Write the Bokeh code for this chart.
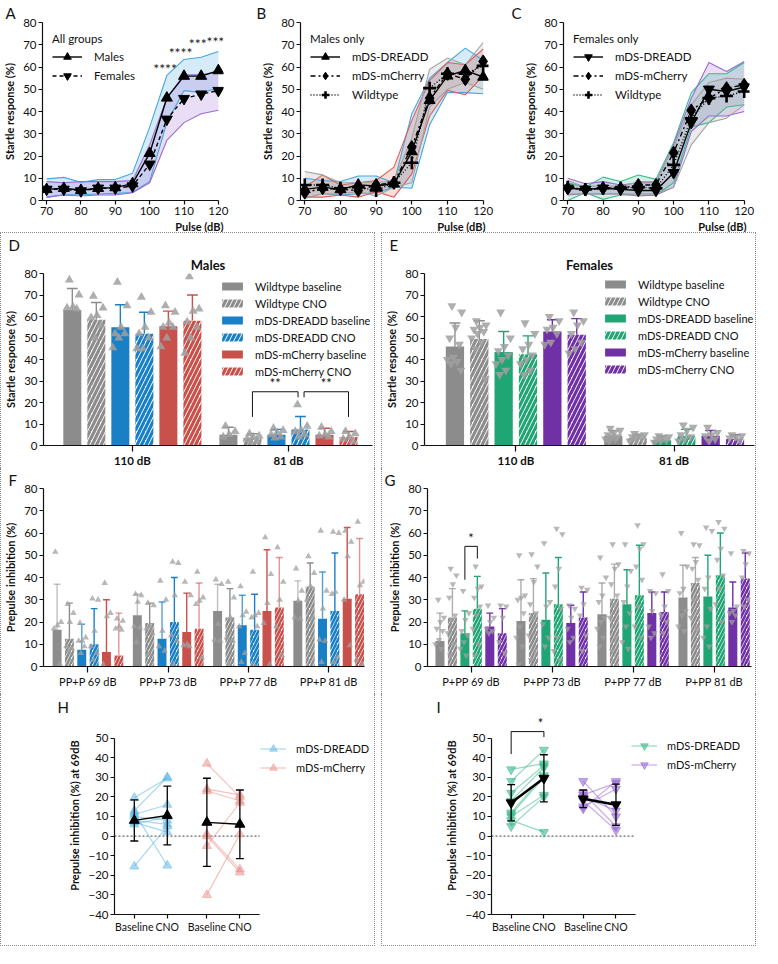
from bokeh.plotting import figure
from bokeh.models import (Range1d, FixedTicker, Legend, LegendItem, Title,
                          CustomJSTickFormatter)
from bokeh.layouts import row, column
from bokeh.core.properties import value
from bokeh.embed import file_html
from bokeh.resources import INLINE

FONT = "Lato"
TXT = "#111111"

GRAY = "#8c8c8c"
BLUE = "#1a80c6"
RED = "#c9514b"
GREEN = "#20a674"
PURPLE = "#7030a6"
BAND_BLUE = "#46a6e0"
BAND_PURPLE = "#9a6ad6"
BAND_RED = "#dd5e58"
BAND_GRAY = "#a3a3a3"
BAND_GREEN = "#3cbb8b"

# ---------------- data: A/B/C startle curves ----------------
pulse_db = [70, 75, 80, 85, 90, 95, 100, 105, 110, 115, 120]

a_male_mean = [5.0, 5.5, 4.6, 5.5, 5.8, 7.6, 21.2, 46.1, 55.9, 55.9, 58.4]
a_male_hi = [9.7, 10.4, 8.2, 9.4, 9.4, 12.2, 33.0, 56.2, 63.4, 64.4, 67.0]
a_male_lo = [1.4, 2.6, 2.6, 2.9, 3.2, 3.6, 8.6, 35.0, 49.4, 48.5, 50.4]
a_fem_mean = [5.0, 5.0, 4.3, 5.5, 5.5, 6.5, 16.3, 36.5, 45.8, 47.8, 49.4]
a_fem_hi = [8.5, 8.0, 8.5, 8.5, 8.5, 9.0, 25.0, 46.0, 56.5, 56.5, 58.0]
a_fem_lo = [1.5, 2.5, 2.0, 2.5, 2.5, 3.5, 8.0, 27.0, 35.0, 39.0, 40.6]
a_star_text = ["****", "****", "***", "****"]
a_star_x = [104.5, 109, 114, 120]
a_star_y = [59.5, 66.5, 70.5, 71.5]

b_dreadd_mean = [5, 6, 5, 7, 6.5, 7.5, 22, 45, 56, 58.5, 55.5]
b_dreadd_hi = [10, 9, 8.5, 11, 11, 8, 39, 55, 62, 68.5, 63]
b_dreadd_lo = [1, 3, 2.5, 3, 3.5, 6, 5.5, 34, 48.5, 48.5, 48]
b_mch_mean = [3.5, 5.5, 5, 4.5, 7, 8, 24, 46, 57, 54.5, 62.5]
b_mch_hi = [6, 11.5, 7, 8, 9, 15, 36, 54, 62, 61, 68]
b_mch_lo = [1.5, 1.5, 2.5, 1.5, 4, 1.5, 12, 38, 49.5, 47.5, 56]
b_wt_mean = [7, 7, 5.5, 6, 4.5, 8, 17, 50.5, 57, 57, 60.5]
b_wt_hi = [13, 11.5, 8, 8, 8, 9, 28, 59, 64, 61, 71]
b_wt_lo = [1, 3, 3, 4, 2, 6, 8, 42, 50, 53, 50]

c_dreadd_mean = [5.5, 5, 5.5, 5, 4.5, 4.5, 12.5, 35, 50, 49, 51]
c_dreadd_hi = [8, 6, 10.5, 8.5, 11.5, 9.5, 26, 48.5, 57, 57, 62]
c_dreadd_lo = [0, 3.5, 0.5, 2.5, 2.5, 2.5, 8, 33, 35, 42, 43]
c_mch_mean = [5.5, 5, 5.5, 5.5, 7, 7, 21.5, 40.5, 46, 50.5, 52]
c_mch_hi = [10, 7.5, 8.5, 7, 8, 8, 25, 46, 62, 58, 62.5]
c_mch_lo = [2.5, 3, 3, 3, 2, 2.5, 6, 31, 38, 38, 40]
c_wt_mean = [6, 5, 5.5, 5.5, 6, 5.5, 16, 37, 46, 47, 49]
c_wt_hi = [9, 6, 7, 6, 8.5, 8.5, 24, 43, 53, 55, 54.5]
c_wt_lo = [3, 3, 3, 3, 3, 3, 6, 25, 35, 37, 43]

# ---------------- data: D/E startle bars ----------------
cond_labels = ["Wildtype baseline", "Wildtype CNO", "mDS-DREADD baseline",
               "mDS-DREADD CNO", "mDS-mCherry baseline", "mDS-mCherry CNO"]
cond_hatched = [False, True, False, True, False, True]
startle_groups = ["110 dB", "81 dB"]

d_mean = [[63, 5], [58.5, 3.5], [55, 5], [52, 7.5], [55.5, 5], [58, 4]]
d_top = [[73, 8.5], [66.5, 5.5], [65.5, 7.5], [62, 13.5], [62.5, 8], [70, 6.5]]
d_pts = [
    [[77, 70, 64.5, 64, 63.5], [9, 6.5, 5, 4]],
    [[69.5, 64, 60.5, 59.5, 56, 50], [5.5, 4.5, 4, 3, 2, 1.5]],
    [[76, 65, 55, 52, 52, 50, 45.5], [8, 7, 6, 5, 4, 3.5]],
    [[69, 62, 55, 52, 50, 45, 45], [19, 9, 7, 6.5, 5, 4]],
    [[65, 62, 57, 55, 55, 50, 46], [8.5, 6.5, 5, 4.5, 4]],
    [[78.5, 63.5, 62.5, 57.5, 55, 50, 43], [6.5, 5.5, 4, 3, 2]],
]

e_mean = [[46, 4.5], [49.5, 3.5], [43.5, 2.5], [42.5, 4.5], [53, 4.5], [51.5, 3]]
e_top = [[57, 7], [58, 5], [53, 4.5], [51, 7.5], [58.5, 7], [59, 5]]
e_pts = [
    [[65, 62, 55, 50, 47, 41, 40, 39, 38, 35], [8, 7, 6, 5, 4, 4, 3, 3, 2]],
    [[58, 56, 55, 54, 53, 52, 50, 48, 45, 31], [5.5, 5, 4.5, 4, 3.5, 3, 2]],
    [[62, 50, 46, 44, 42, 40, 38, 35, 33], [4.5, 4, 3.5, 3, 2.5, 2, 1.5]],
    [[57, 52, 47, 45, 42, 40, 38, 35, 33], [9.5, 8.5, 7, 5, 4, 3, 2]],
    [[60, 58, 55, 54, 52, 48, 47], [8.5, 6, 5, 4.5, 3, 2]],
    [[62, 58, 56, 52, 48, 45, 43], [5, 4.5, 4, 3.5, 2.5]],
]

# ---------------- data: F/G prepulse inhibition bars ----------------
ppi_groups_m = ["PP+P 69 dB", "PP+P 73 dB", "PP+P 77 dB", "PP+P 81 dB"]
ppi_groups_f = ["P+PP 69 dB", "P+PP 73 dB", "P+PP 77 dB", "P+PP 81 dB"]

f_mean = [[16.5, 23, 25, 29.5], [12.5, 19.5, 22, 36], [7.5, 12.5, 18.5, 21.5],
          [10, 20, 16.5, 25], [6.5, 15.5, 25, 30.5], [5, 17, 26.5, 32.5]]
f_top = [[37, 32.5, 37, 38.5], [28.5, 28.5, 35, 46.5], [19, 29, 32, 42.5],
         [26, 40, 32.5, 51], [30, 33, 52.5, 62.5], [24, 37.5, 49, 57.5]]
f_pts = [
    [[51.5, 20, 18.5, 17, 1], [32.5, 32, 29, 18, 17.5, 11], [39, 37, 19, 12, 11.5], [44, 34, 29.5, 22, 21.5]],
    [[28, 24, 20, 9, 8, 7], [28.5, 27.5, 18, 17, 15, 5.5], [38, 31, 22, 13, 11.5, 1], [49.5, 42, 36, 30, 22]],
    [[19.5, 13, 11.5, 11.5, 9, 6], [38.5, 30, 16, 9, 7], [36, 24.5, 23, 18, 6, 2], [61, 34, 26, 12, 11.5, 2]],
    [[30.5, 30, 16, 9, 6, 3], [47, 46.5, 32, 14, 11.5, 1], [42.5, 24, 23, 22, 18, 1], [60.5, 60, 33.5, 32.5, 4, 2]],
    [[37.5, 24, 22.5, 1], [38, 32, 10, 9.5, 9], [58, 41.5, 28.5, 19.5, 1], [61, 56, 49.5, 30, 9.5]],
    [[21.5, 20.5, 18, 17, 16.5], [42.5, 31, 29.5, 28, 4], [53.5, 38, 30, 18, 5], [65, 38, 36.5, 3, 1]],
]

g_mean = [[11.5, 20.5, 23.5, 31], [22, 24, 30.5, 37.5], [15, 21, 28, 31.5],
          [26, 28, 32, 41], [18, 19.5, 24, 26.5], [15, 22, 24.5, 39.5]]
g_top = [[24, 39, 37.5, 45.5], [35, 39.5, 46, 49], [25, 42, 43.5, 50],
         [40.5, 49, 54.5, 60], [24, 27.5, 33.5, 38], [26, 33.5, 33.5, 51]]
g_pts = [
    [[30, 22, 20, 17, 16, 12, 10, 8], [50, 32, 31, 30, 24, 18, 13, 9, 1],
     [49, 40, 32, 29, 22, 20, 17, 13, 9], [60, 45, 35, 33, 25, 23, 18, 16]],
    [[44, 41, 37, 31, 23, 21, 15, 10, 5], [50.5, 45, 38, 28, 24, 22, 14, 7, 3],
     [55, 46, 44, 37, 32, 28, 22, 13, 7], [55, 54.5, 47, 44, 39, 30, 22, 17]],
    [[34, 24, 21, 16, 14, 11, 8, 5], [55.5, 29, 27, 19, 13, 9],
     [55, 43, 36, 29, 24, 18, 11, 8], [62.5, 61, 40, 35, 26, 18, 13, 9]],
    [[45, 36, 35, 31, 27, 23, 17, 10, 5], [62, 59.5, 44, 36, 26, 13, 7, 3],
     [63.5, 55, 53, 45, 39, 27, 18, 13], [65, 62, 53, 48, 41, 35, 28, 20]],
    [[27.5, 22, 20, 17, 16, 15], [27.5, 26, 22, 17, 13, 11],
     [34, 33, 25, 18, 15, 13], [51, 27, 25, 24, 23, 20]],
    [[27.5, 27, 22, 11, 6], [35.5, 34.5, 28, 23, 14, 7],
     [41.5, 34, 27, 23, 20, 15], [52, 51, 46, 40, 30, 27]],
]

# ---------------- data: H/I paired PPI at 69 dB ----------------
pair_ticks = ["Baseline", "CNO", "Baseline", "CNO"]
h_dreadd_base = [19.5, 13, 12, 11, 10, 8, 7, 6, -15.5]
h_dreadd_cno = [29.5, 30, -15, 16, 8, 6, 2, 10, 5]
h_mch_base = [37, 24, 23, 1, 0, -5, -30]
h_mch_cno = [20, 21, 18, -17, -18.5, 17, 1]
h_mean = [8, 10.5, 7, 6]
h_sd = [10.5, 15, 22.5, 17.5]

i_dreadd_base = [34, 28, 22, 18, 12, 11, 10, 8, 5]
i_dreadd_cno = [37, 44, 36, 35, 31, 30, 21, 2, 20]
i_mch_base = [28, 22, 21, 20, 18, 15, 14]
i_mch_cno = [10, 5, 27, 13, 3, 24, 28]
i_mean = [17, 29.5, 19, 16]
i_sd = [9.2, 12, 4.5, 10.5]


# ---------------- helpers ----------------
def style(p):
    p.xgrid.visible = False
    p.ygrid.visible = False
    p.outline_line_color = None
    for ax in p.axis:
        ax.axis_line_color = TXT
        ax.axis_line_width = 1.2
        ax.major_tick_line_color = TXT
        ax.major_tick_line_width = 1.2
        ax.major_tick_in = 0
        ax.major_tick_out = 4
        ax.minor_tick_line_color = None
        ax.major_label_text_font = FONT
        ax.major_label_text_font_size = "11.5px"
        ax.major_label_text_color = TXT
        ax.major_label_standoff = 2
        ax.axis_label_text_font = FONT
        ax.axis_label_text_font_size = "11px"
        ax.axis_label_text_font_style = "bold"
        ax.axis_label_text_color = TXT
        ax.axis_label_standoff = 4


def make_fig(w, h, bl, br, bt, bb, xr, yr, border=None):
    kw = {}
    if border:
        kw["styles"] = border
    p = figure(width=w, height=h, x_range=xr, y_range=yr, output_backend="svg",
               toolbar_location=None, min_border_left=bl, min_border_right=br,
               min_border_top=bt, min_border_bottom=bb, **kw)
    style(p)
    return p


def side_title(p, txt, place, align, offset, size="15px", bold=False, standoff=2):
    p.add_layout(Title(text=txt, align=align, offset=offset, standoff=standoff,
                       text_font=FONT, text_font_size=size, text_color=TXT,
                       text_font_style="bold" if bold else "normal"), place)


def tick_labels(p, positions, labels):
    p.xaxis.ticker = FixedTicker(ticks=positions)
    p.xaxis.formatter = CustomJSTickFormatter(
        args=dict(pos=positions, labs=labels),
        code="const i = pos.indexOf(tick); return i >= 0 ? labs[i] : '';")


def legend_common(**kw):
    base = dict(border_line_color=None, background_fill_alpha=0,
                label_text_font=FONT, label_text_font_size="11.5px", label_text_color=TXT,
                title_text_font=FONT, title_text_font_size="11.5px",
                title_text_font_style="normal", title_text_color=TXT)
    base.update(kw)
    return Legend(**base)


def line_panel(p, series, title, pulse_off):
    for mean, hi, lo, band, marker, dash, lab, msize in series:
        p.varea(x=pulse_db, y1=lo, y2=hi, fill_color=band, fill_alpha=0.22)
    for mean, hi, lo, band, marker, dash, lab, msize in series:
        p.line(pulse_db, hi, line_color=band, line_width=1.1)
        p.line(pulse_db, lo, line_color=band, line_width=1.1)
    items = []
    for mean, hi, lo, band, marker, dash, lab, msize in series:
        ln = p.line(pulse_db, mean, line_color="black", line_width=1.4, line_dash=dash)
        if marker == "cross":
            sc = p.scatter(pulse_db, mean, marker="cross", size=msize, line_color="black", line_width=2.6)
        else:
            sc = p.scatter(pulse_db, mean, marker=marker, size=msize, fill_color="black", line_color="black")
        items.append(LegendItem(label=lab, renderers=[ln, sc]))
    leg = legend_common(items=items, location="top_left", title=title, glyph_width=30,
                        glyph_height=19, label_height=19, spacing=0, padding=2, margin=10,
                        label_standoff=12, title_standoff=2, label_width=90)
    p.add_layout(leg)
    p.xaxis.ticker = FixedTicker(ticks=[70, 80, 90, 100, 110, 120])
    p.yaxis.ticker = FixedTicker(ticks=list(range(0, 81, 10)))
    p.xaxis.bounds = (68.8, 120)
    p.yaxis.axis_label = "Startle response (%)"
    side_title(p, "Pulse (dB)", "below", "right", pulse_off, size="11px", bold=True, standoff=0)


OFFS = [-5, -3, -1, 1, 3, 5]


def jitter(n, spread):
    return [((i * 0.618034 + 0.31) % 1.0 - 0.5) * spread for i in range(n)]


def bar_panel(p, centers, means, tops, pts, colors, marker, bw, cap, psize, palpha, spread,
              hscale, hweight, err_alpha):
    rends = []
    for k in range(6):
        xs = [c + OFFS[k] for c in centers]
        stem_x = [[x, x] for x in xs]
        stem_y = [[m, t] for m, t in zip(means[k], tops[k])]
        cap_x = [[x - cap, x + cap] for x in xs]
        cap_y = [[t, t] for t in tops[k]]
        p.multi_line(stem_x + cap_x, stem_y + cap_y, line_color=colors[k],
                     line_width=1.4, line_alpha=err_alpha[k])
        if cond_hatched[k]:
            r = p.vbar(x=xs, top=means[k], width=bw, fill_color="white", line_color=None,
                       hatch_pattern="/", hatch_color=colors[k], hatch_weight=hweight,
                       hatch_scale=hscale)
        else:
            r = p.vbar(x=xs, top=means[k], width=bw, fill_color=colors[k], line_color=None)
        rends.append(r)
    for k in range(6):
        for gi, c in enumerate(centers):
            ys = pts[k][gi]
            px = [c + OFFS[k] + o for o in jitter(len(ys), spread)]
            p.scatter(px, ys, marker=marker, size=psize, fill_color="#a0a0a0",
                      fill_alpha=palpha, line_color="#a0a0a0", line_alpha=0)
    p.yaxis.ticker = FixedTicker(ticks=list(range(0, 81, 10)))
    p.xaxis.major_tick_out = 6
    return rends


def bracket(p, x0, x1, ytop, yl, yr, txt, tx=None):
    p.line([x0, x0, x1, x1], [yl, ytop, ytop, yr], line_color=TXT, line_width=1)
    p.text(x=[(x0 + x1) / 2 if tx is None else tx], y=[ytop + 0.3], text=[txt], text_align="center",
           text_baseline="bottom", text_font=value(FONT), text_font_size="13px",
           text_color=TXT)


PAIR_X = [3, 8, 14, 19]
PAIR_BOUNDS = (0, 22)


def paired_panel(p, groups, means, sds, mean_lw, marker, fill_alpha, legx, legy):
    items = []
    p.line(list(PAIR_BOUNDS), [0, 0], line_color="#666666", line_width=1.2, line_dash="2 2")
    for gi, (base, cno, color, lab) in enumerate(groups):
        xb, xc = PAIR_X[2 * gi], PAIR_X[2 * gi + 1]
        ml = p.multi_line([[xb, xc] for _ in base], [[b, c] for b, c in zip(base, cno)],
                          line_color=color, line_alpha=0.55, line_width=1.2)
        sc = p.scatter([xb] * len(base) + [xc] * len(cno), list(base) + list(cno), marker=marker,
                       size=9, fill_color=color, fill_alpha=fill_alpha, line_color=color,
                       line_alpha=fill_alpha)
        items.append(LegendItem(label=lab, renderers=[ml, sc]))
    lo = [m - s for m, s in zip(means, sds)]
    hi = [m + s for m, s in zip(means, sds)]
    ex = [[x, x] for x in PAIR_X]
    ey = [[a, b] for a, b in zip(lo, hi)]
    cx = [[x - 0.6, x + 0.6] for x in PAIR_X]
    p.multi_line(ex + cx + cx, ey + [[v, v] for v in lo] + [[v, v] for v in hi],
                 line_color="black", line_width=1.3)
    for gi in range(2):
        xx = PAIR_X[2 * gi:2 * gi + 2]
        yy = means[2 * gi:2 * gi + 2]
        p.line(xx, yy, line_color="black", line_width=mean_lw)
        p.scatter(xx, yy, marker=marker, size=10, fill_color="black", line_color="black")
    tick_labels(p, PAIR_X, pair_ticks)
    p.xaxis.bounds = PAIR_BOUNDS
    p.xaxis.major_label_text_font_size = "10.5px"
    p.yaxis.ticker = FixedTicker(ticks=list(range(-40, 51, 10)))
    p.yaxis.bounds = (-40, 50)
    p.yaxis.axis_label = "Prepulse inhibition (%) at 69dB"
    leg = legend_common(items=items, location=(legx, legy), glyph_width=26, glyph_height=19,
                        label_height=19, spacing=0, padding=0, margin=0, label_standoff=10,
                        label_width=80, label_text_font_size="11px")
    p.add_layout(leg)


DOT = "1px dotted #8a8a8a"
BOX_TOP = {"border-top": DOT, "border-left": DOT, "border-right": DOT}
BOX_MID = {"border-left": DOT, "border-right": DOT}
BOX_BOT = {"border-bottom": DOT, "border-left": DOT, "border-right": DOT}

# ---------------- top row ----------------
TOP_H = 232
LET_STANDOFF = 2
pa = make_fig(254, TOP_H, 38, 31, 0, 0, Range1d(68.8, 121.5), Range1d(0, 80))
side_title(pa, "A", "above", "left", -37, standoff=LET_STANDOFF)
line_panel(pa, [
    (a_male_mean, a_male_hi, a_male_lo, BAND_BLUE, "triangle", "solid", "Males", 11),
    (a_fem_mean, a_fem_hi, a_fem_lo, BAND_PURPLE, "inverted_triangle", "4 3", "Females", 11),
], "All groups", 0)
pa.text(x=a_star_x, y=a_star_y, text=a_star_text, text_align="center", text_baseline="middle",
        text_font=value(FONT), text_font_size="14px", text_color="#222222")

pb = make_fig(254, TOP_H, 46, 20, 0, 0, Range1d(68.8, 121.5), Range1d(0, 80))
side_title(pb, "B", "above", "left", -44, standoff=LET_STANDOFF)
line_panel(pb, [
    (b_dreadd_mean, b_dreadd_hi, b_dreadd_lo, BAND_BLUE, "triangle", "solid", "mDS-DREADD", 11),
    (b_mch_mean, b_mch_hi, b_mch_lo, BAND_RED, "diamond", "5 3 2 3", "mDS-mCherry", 13),
    (b_wt_mean, b_wt_hi, b_wt_lo, BAND_GRAY, "cross", "1 2", "Wildtype", 13),
], "Males only", 3)

pc = make_fig(254, TOP_H, 55, 13, 0, 0, Range1d(68.8, 121.5), Range1d(0, 80))
side_title(pc, "C", "above", "left", -52, standoff=LET_STANDOFF)
line_panel(pc, [
    (c_dreadd_mean, c_dreadd_hi, c_dreadd_lo, BAND_GREEN, "inverted_triangle", "solid", "mDS-DREADD", 11),
    (c_mch_mean, c_mch_hi, c_mch_lo, BAND_PURPLE, "diamond", "5 3 2 3", "mDS-mCherry", 13),
    (c_wt_mean, c_wt_hi, c_wt_lo, BAND_GRAY, "cross", "1 2", "Wildtype", 13),
], "Females only", 3)

# ---------------- D / E ----------------
DE_H = 236
d_colors = [GRAY, GRAY, BLUE, BLUE, RED, RED]
e_colors = [GRAY, GRAY, GREEN, GREEN, PURPLE, PURPLE]
startle_centers = [10, 23]


def startle_panel(bl, br, xr, means, tops, pts, colors, marker, title, let, legx, legy):
    p = make_fig(375, DE_H, bl, br, 0, 19, xr, Range1d(0, 80), BOX_TOP)
    side_title(p, title, "above", "center", 0, size="13px", bold=True, standoff=2)
    side_title(p, let, "above", "left", -bl + 2, standoff=0)
    rends = bar_panel(p, startle_centers, means, tops, pts, colors, marker, 1.5, 0.45, 9, 0.85,
                      1.3, 9, 3.2, [1] * 6)
    tick_labels(p, startle_centers, startle_groups)
    p.xaxis.major_label_text_font_style = "bold"
    p.yaxis.axis_label = "Startle response (%)"
    leg = legend_common(items=[LegendItem(label=l, renderers=[r]) for l, r in zip(cond_labels, rends)],
                        location=(legx, legy), glyph_width=26, glyph_height=10, label_height=16,
                        spacing=1, padding=0, margin=0, label_standoff=10, label_width=108,
                        label_text_font_size="11px")
    p.add_layout(leg)
    return p


pd_ = startle_panel(37, 4, Range1d(2.6, 30), d_mean, d_top, d_pts, d_colors, "triangle", "Males", "D", 176, 66)
d_c2 = startle_centers[1]
bracket(pd_, d_c2 + OFFS[1], d_c2 + OFFS[3] - 0.2, 25, 13.3, 22.4, "**")
bracket(pd_, d_c2 + OFFS[3] + 0.3, d_c2 + OFFS[5], 25, 22.4, 13.3, "**")

pe = startle_panel(37, 3, Range1d(2.5, 29.6), e_mean, e_top, e_pts, e_colors, "inverted_triangle",
                   "Females", "E", 178, 68)

# ---------------- F / G ----------------
FG_H = 226
ppi_centers = [10, 23, 36, 49]


def ppi_panel(bl, br, xr, means, tops, pts, colors, marker, groups, let, err_alpha):
    p = make_fig(375, FG_H, bl, br, 0, 28, xr, Range1d(0, 80), BOX_MID)
    side_title(p, let, "above", "left", -bl + 2, standoff=0)
    bar_panel(p, ppi_centers, means, tops, pts, colors, marker, 1.45, 0.55, 6.5, 0.75, 1.5,
              7, 2.6, err_alpha)
    tick_labels(p, ppi_centers, groups)
    p.xaxis.major_label_text_font_size = "11px"
    p.yaxis.axis_label = "Prepulse inhibition (%)"
    return p


pf = ppi_panel(37, 12, Range1d(2.8, 54.8), f_mean, f_top, f_pts, d_colors, "triangle",
               ppi_groups_m, "F", [0.55, 1, 0.75, 1, 1, 0.6])
pg = ppi_panel(45, 6, Range1d(3, 55), g_mean, g_top, g_pts, e_colors, "inverted_triangle",
               ppi_groups_f, "G", [0.7, 0.7, 1, 1, 1, 1])
bracket(pg, ppi_centers[0] + OFFS[2], ppi_centers[0] + OFFS[3], 54, 39, 48.5, "*")

# ---------------- H / I ----------------
HI_H = 252

ph = make_fig(375, HI_H, 113, 2, 0, 32, Range1d(0, 39.4), Range1d(-40, 61), BOX_BOT)
side_title(ph, "H", "above", "left", -57, standoff=2)
paired_panel(ph, [(h_dreadd_base, h_dreadd_cno, "#5cb6e6", "mDS-DREADD"),
                  (h_mch_base, h_mch_cno, "#ea8f8a", "mDS-mCherry")],
             h_mean, h_sd, 1.4, "triangle", 0.5, 146, 137)

pi = make_fig(375, HI_H, 109, 2, 0, 32, Range1d(0, 40.3), Range1d(-40, 61), BOX_BOT)
side_title(pi, "I", "above", "left", -55, standoff=2)
paired_panel(pi, [(i_dreadd_base, i_dreadd_cno, BAND_GREEN, "mDS-DREADD"),
                  (i_mch_base, i_mch_cno, BAND_PURPLE, "mDS-mCherry")],
             i_mean, i_sd, 2.6, "inverted_triangle", 0.6, 140, 140)
bracket(pi, PAIR_X[0], PAIR_X[1], 53.3, 41.8, 50.5, "*", tx=PAIR_X[1] - 0.5)

# ---------------- layout ----------------
layout = column(row(pa, pb, pc), row(pd_, pe, spacing=6), row(pf, pg, spacing=6),
                row(ph, pi, spacing=6))

open("out.html", "w").write(file_html(layout, INLINE))
